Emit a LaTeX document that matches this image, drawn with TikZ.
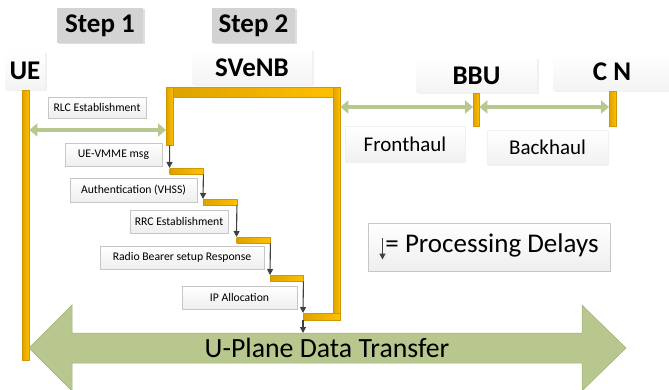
\documentclass[tikz,border=0pt]{standalone}
\usepackage{fontspec}
\setmainfont{Carlito}
\usetikzlibrary{arrows.meta,shadows}
\definecolor{barA}{HTML}{DDA200}
\definecolor{barB}{HTML}{FFC000}
\definecolor{barE}{HTML}{CF9700}
\definecolor{grn}{HTML}{B7C78E}
\definecolor{grnE}{HTML}{9FB277}
\definecolor{dly}{HTML}{404040}
\definecolor{boxE}{HTML}{C6C6C6}
\definecolor{stepF}{HTML}{D3D3D3}

\begin{document}
\begin{tikzpicture}[x=1pt,y=-1pt,
    stepbox/.style={fill=stepF,inner sep=0pt,drop shadow={opacity=0.25,shadow xshift=1.5pt,shadow yshift=-1.5pt},font=\fontsize{27}{30}\selectfont\bfseries},
    headbox/.style={top color=white,bottom color=gray!9,inner sep=0pt,drop shadow={opacity=0.12,shadow xshift=1.5pt,shadow yshift=-1.5pt},font=\fontsize{27}{30}\selectfont\bfseries},
    msgbox/.style={top color=white,bottom color=gray!13,draw=boxE,inner sep=0pt,minimum height=23pt,font=\fontsize{11.7}{13}\selectfont},
    haulbox/.style={top color=white,bottom color=gray!11,draw=gray!12,inner sep=0pt,font=\fontsize{21}{24}\selectfont},
    lifebar/.style={left color=barA,right color=barB,draw=barE,line width=0.4pt,inner sep=0pt,anchor=north west},
    link/.style={grn,line width=4.5pt,{Triangle[width=13pt,length=8pt]}-{Triangle[width=13pt,length=8pt]}},
    delay/.style={dly,line width=1.1pt,-{Triangle[width=6pt,length=6pt]}}]
      \useasboundingbox (0,0) rectangle (669,390);
      \node[stepbox,minimum width=86pt,minimum height=35pt] (s1) at (100,25.5) {Step 1};
      \node[stepbox,minimum width=83pt,minimum height=35pt] (s2) at (253.5,25.5) {Step 2};
      \node[headbox,minimum width=40pt,minimum height=38pt] (ue) at (25,71) {UE};
      \node[headbox,minimum width=120pt,minimum height=35pt] (sv) at (252,67.5) {SVeNB};
      \node[headbox,minimum width=121pt,minimum height=35pt] (bbu) at (476.5,75.5) {BBU};
      \node[headbox,minimum width=118pt,minimum height=38pt] (cn) at (612,72) {C N};
      \node[msgbox,minimum width=98pt,minimum height=21pt] (m0) at (97,107.5) {RLC Establishment};
      \node[msgbox,minimum width=97pt] (m1) at (113.5,154.5) {UE-VMME msg};
      \node[msgbox,minimum width=127pt,minimum height=24pt] (m2) at (133.5,190) {Authentication (VHSS)};
      \node[msgbox,minimum width=98pt] (m3) at (179,221.5) {RRC Establishment};
      \node[msgbox,minimum width=164pt] (m4) at (182,257.5) {Radio Bearer setup Response};
      \node[msgbox,minimum width=115pt] (m5) at (239.5,297.5) {IP Allocation};
      \node[haulbox,minimum width=120pt,minimum height=36pt] (fh) at (405,144) {Fronthaul};
      \node[haulbox,minimum width=121pt,minimum height=35pt] (bh) at (547.5,147.5) {Backhaul};
      \node[msgbox,minimum width=242pt,minimum height=48pt,font=\fontsize{27}{30}\selectfont] (pd) at (489,247)
        {\tikz[baseline=0pt]\draw[delay,line width=1.4pt] (0pt,15pt) -- (0pt,-7pt);= Processing Delays};
      \node[lifebar,minimum width=7pt,minimum height=270pt] (uel) at (22,90) {};
      \node[lifebar,minimum width=174pt,minimum height=10pt] (svt) at (166,87) {};
      \node[lifebar,minimum width=7pt,minimum height=58pt] (svl) at (166,87) {};
      \node[lifebar,minimum width=7pt,minimum height=233pt] (svr) at (333,87) {};
      \node[lifebar,minimum width=33.5pt,minimum height=6pt] (d1) at (169.5,168) {};
      \node[lifebar,minimum width=33.5pt,minimum height=6pt] (d2) at (203,199) {};
      \node[lifebar,minimum width=33.5pt,minimum height=6pt] (d3) at (236.5,237) {};
      \node[lifebar,minimum width=33pt,minimum height=6pt] (d4) at (270,275) {};
      \node[lifebar,minimum width=37pt,minimum height=7pt] (svb) at (303,313) {};
      \node[lifebar,minimum width=6pt,minimum height=33pt] (bbul) at (473,93) {};
      \node[lifebar,minimum width=7pt,minimum height=35pt] (cnl) at (609,91) {};
      \coordinate (ry) at (0,130);
      \coordinate (hy) at (0,107);
      \coordinate (dt) at (303,333);
      \draw[link] (uel.east |- ry) -- (svl.west |- ry);
      \draw[link] (svr.east |- hy) -- (bbul.west |- hy);
      \draw[link] (bbul.east |- hy) -- (cnl.west |- hy);
      \draw[delay] (svl.south) -- (d1.north west);
      \draw[delay] (d1.south east) -- (d2.north west);
      \draw[delay] (d2.south east) -- (d3.north west);
      \draw[delay] (d3.south east) -- (d4.north west);
      \draw[delay] (d4.south east) -- (svb.north west);
      \draw[delay] (svb.south west) -- (dt);
      \filldraw[fill=grn,draw=grnE,line width=0.5pt] (29,348) -- (72,305) -- (72,333) -- (582,333) -- (582,305)
        -- (626,348) -- (582,391) -- (582,363) -- (72,363) -- (72,391) -- cycle;
      \node[font=\fontsize{27.8}{30}\selectfont] (up) at (327,348) {U-Plane Data Transfer};
\end{tikzpicture}
\end{document}
